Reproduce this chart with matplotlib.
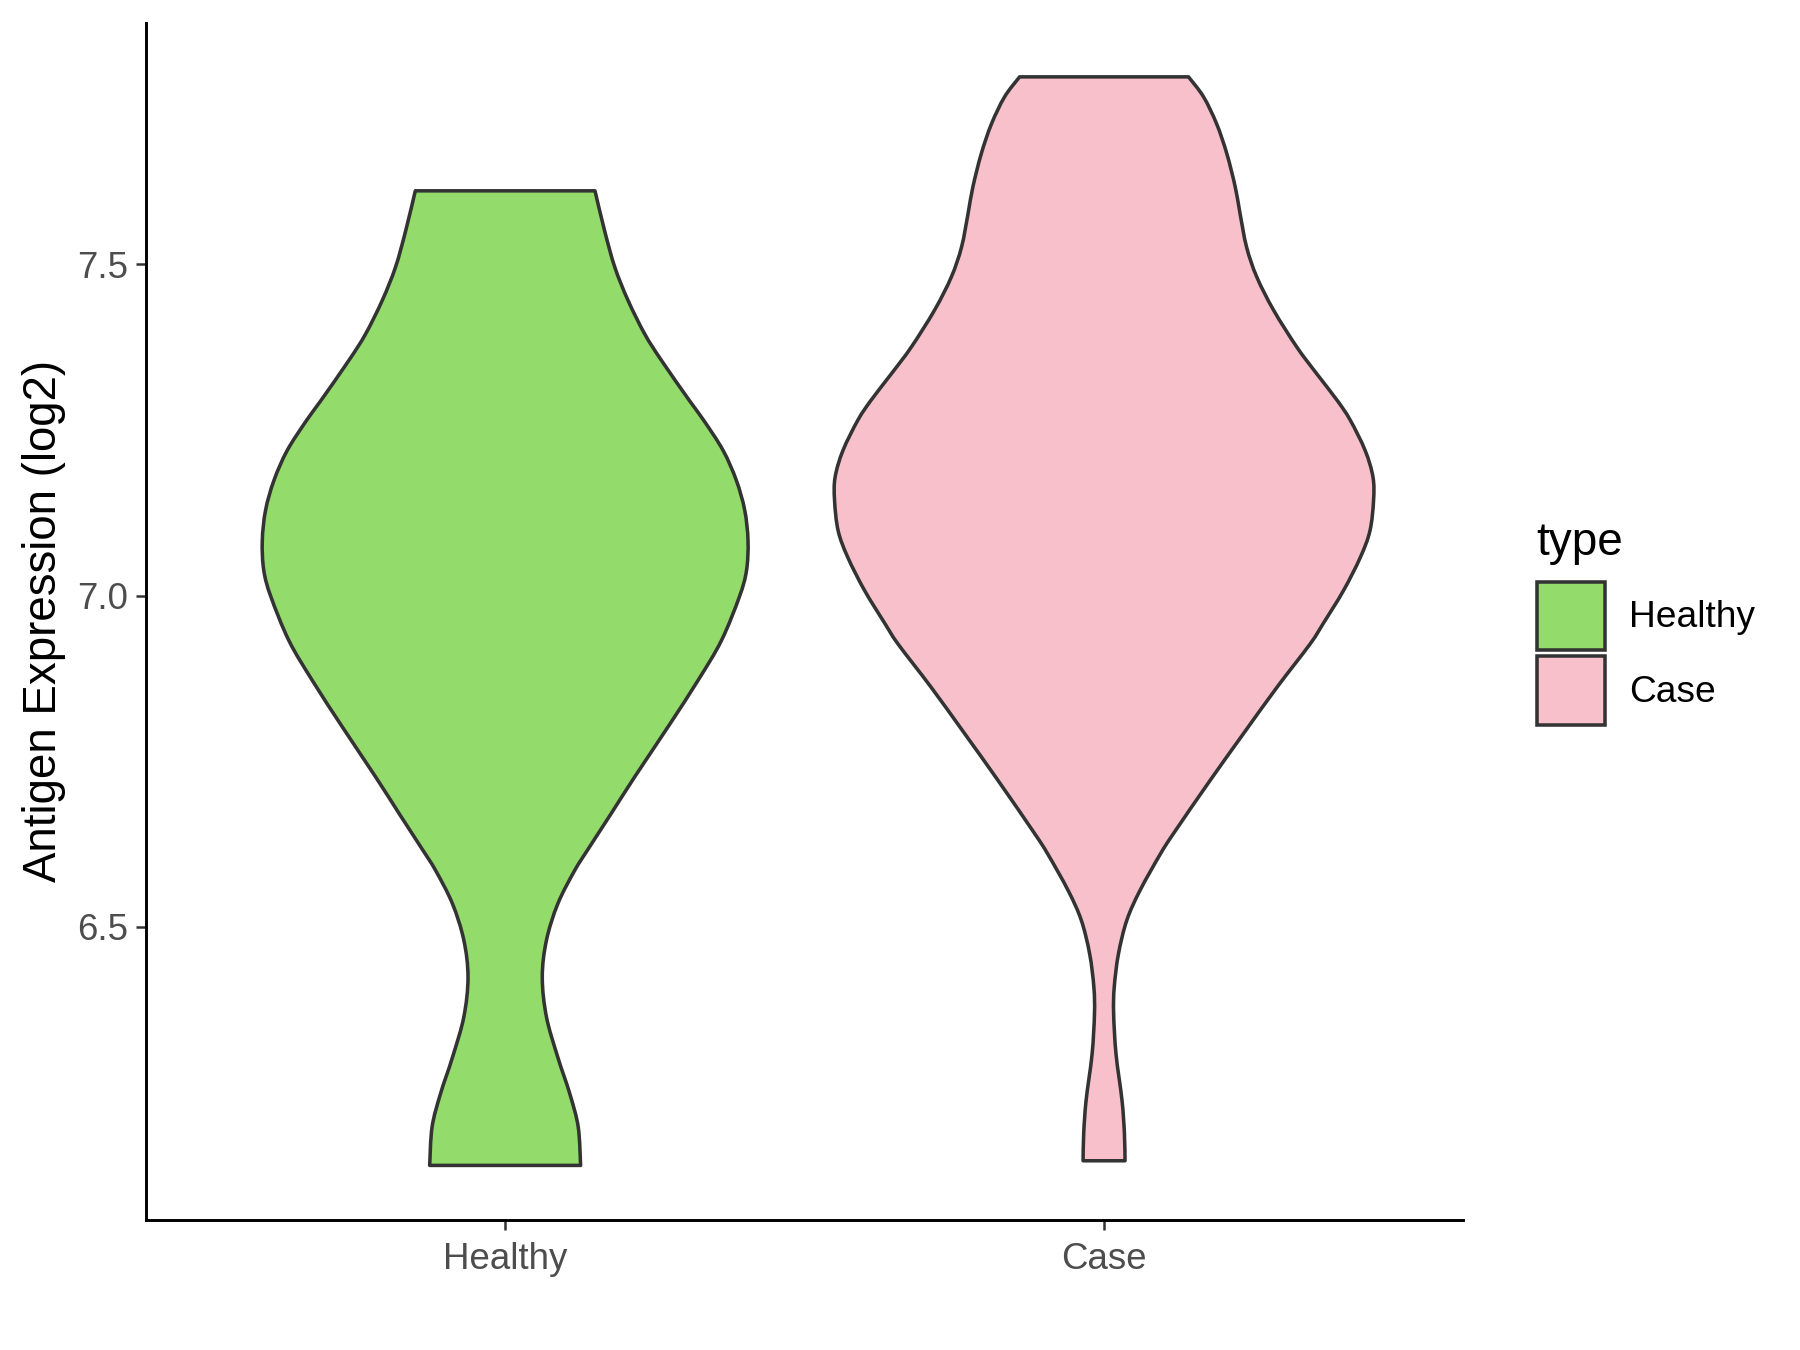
import matplotlib
matplotlib.use("Agg")
import matplotlib.pyplot as plt
from matplotlib.patches import Patch, PathPatch
from matplotlib.path import Path

plt.rcParams['font.family'] = ['Liberation Sans', 'DejaVu Sans']

# categories and colours
groups = ['Healthy', 'Case']
colors = ['#93DB6B', '#F7C0CB']

# violin outlines: value (log2) and half width (x units)
healthy_y = [7.611, 7.551, 7.496, 7.446, 7.395, 7.355, 7.294, 7.264, 7.219, 7.174,
             7.129, 7.083, 7.038, 6.998, 6.932, 6.872, 6.802, 6.726, 6.671, 6.618,
             6.585, 6.535, 6.480, 6.424, 6.364, 6.303, 6.248, 6.198, 6.140]
healthy_hw = [0.150, 0.166, 0.183, 0.205, 0.233, 0.261, 0.308, 0.332, 0.364, 0.386,
              0.400, 0.4055, 0.403, 0.391, 0.361, 0.322, 0.272, 0.216, 0.177, 0.139,
              0.116, 0.088, 0.069, 0.062, 0.069, 0.088, 0.108, 0.122, 0.126]

case_y = [7.783, 7.753, 7.712, 7.667, 7.617, 7.577, 7.526, 7.481, 7.431, 7.375,
          7.335, 7.295, 7.265, 7.219, 7.179, 7.144, 7.098, 7.058, 7.008, 6.958,
          6.927, 6.862, 6.792, 6.721, 6.641, 6.610, 6.555, 6.510, 6.459, 6.409,
          6.369, 6.308, 6.238, 6.188, 6.147]
case_hw = [0.141, 0.166, 0.188, 0.205, 0.219, 0.227, 0.238, 0.255, 0.283, 0.322,
           0.355, 0.389, 0.411, 0.436, 0.449, 0.450, 0.444, 0.428, 0.400, 0.366,
           0.344, 0.289, 0.233, 0.177, 0.116, 0.094, 0.060, 0.038, 0.024, 0.017,
           0.016, 0.020, 0.030, 0.034, 0.035]

yticks = [6.5, 7.0, 7.5]


def smooth_side(pts):
    # cubic bezier segments (catmull-rom) through the outline points
    verts = []
    n = len(pts)
    for i in range(n - 1):
        p0 = pts[max(i - 1, 0)]
        p1 = pts[i]
        p2 = pts[i + 1]
        p3 = pts[min(i + 2, n - 1)]
        c1 = (p1[0] + (p2[0] - p0[0]) / 6, p1[1] + (p2[1] - p0[1]) / 6)
        c2 = (p2[0] - (p3[0] - p1[0]) / 6, p2[1] - (p3[1] - p1[1]) / 6)
        verts += [c1, c2, p2]
    return verts, [Path.CURVE4] * len(verts)


def violin_path(pos, ys, hw):
    left = [(pos - w, y) for y, w in zip(ys, hw)]
    right = [(pos + w, y) for y, w in zip(ys, hw)][::-1]
    lv, lc = smooth_side(left)
    rv, rc = smooth_side(right)
    verts = [left[0]] + lv + [right[0]] + rv + [left[0]]
    codes = [Path.MOVETO] + lc + [Path.LINETO] + rc + [Path.CLOSEPOLY]
    return Path(verts, codes)


fig = plt.figure(figsize=(12, 9), dpi=150)
ax = fig.add_axes([0.081, 0.0963, 0.732, 0.887])

profiles = [(healthy_y, healthy_hw), (case_y, case_hw)]
for i, (ys, hw) in enumerate(profiles):
    patch = PathPatch(violin_path(i + 1, ys, hw), facecolor=colors[i],
                      edgecolor='#333333', linewidth=1.7, joinstyle='round', zorder=2)
    ax.add_patch(patch)

ax.set_xlim(0.4, 2.6)
ax.set_ylim(6.0576, 7.865)
ax.set_xticks([1, 2])
ax.set_xticklabels(groups)
ax.set_yticks(yticks)
ax.set_yticklabels([f"{t:.1f}" for t in yticks])

for s in ['top', 'right']:
    ax.spines[s].set_visible(False)
for s in ['left', 'bottom']:
    ax.spines[s].set_linewidth(1.4)
    ax.spines[s].set_color('black')

ax.tick_params(axis='both', length=5, width=1.2, color='#333333',
               labelsize=17.6, labelcolor='#4D4D4D')
ax.tick_params(axis='x', pad=5.5)
ax.tick_params(axis='y', pad=3.5)

ax.set_ylabel('Antigen Expression (log2)', fontsize=21.9, color='black')
ax.yaxis.set_label_coords(-0.0603, 0.5)

# legend
fig.text(0.8537, 1 - 555 / 1350, 'type', fontsize=22, color='black',
         ha='left', va='baseline')
handles = [Patch(facecolor=c, edgecolor='#333333', linewidth=1.7, label=g)
           for c, g in zip(colors, groups)]
leg = ax.legend(handles=handles, loc='upper left',
                bbox_to_anchor=(0.8537, 1 - 582 / 1350), bbox_transform=fig.transFigure,
                frameon=False, fontsize=17.8,
                handlelength=1.85, handleheight=2.45, handletextpad=0.65,
                labelspacing=0.17, borderpad=0, borderaxespad=0)

fig.savefig('out.png', dpi=150)
